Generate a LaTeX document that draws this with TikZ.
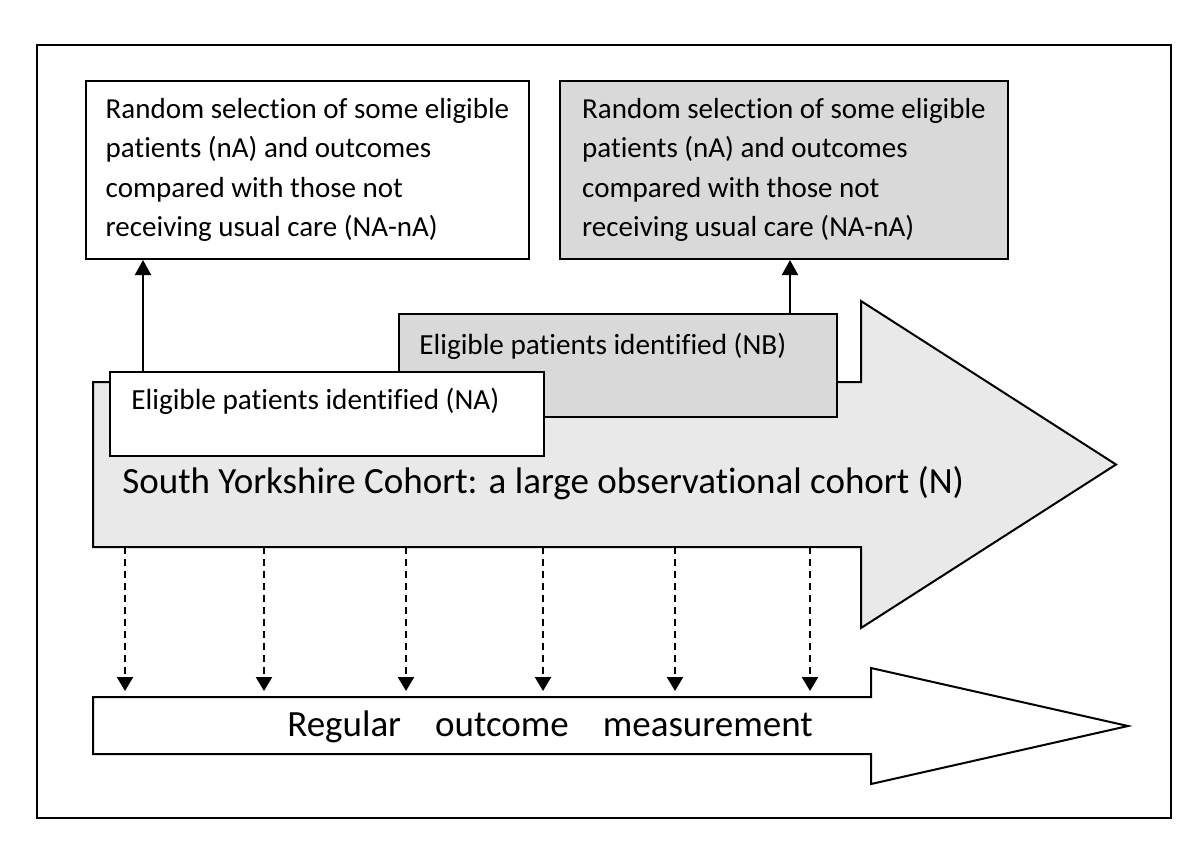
\documentclass[tikz,border=0pt]{standalone}
\usepackage{fontspec}
\setmainfont{Carlito}[RawFeature=-liga]
\usetikzlibrary{arrows.meta,calc}
\definecolor{arrowfill}{RGB}{233,233,233}
\definecolor{boxfill}{RGB}{217,217,217}
\begin{document}
\begin{tikzpicture}[x=0.5pt,y=-0.5pt,
  outline/.style={draw=black,line width=1pt},
  box/.style={outline,rectangle,inner sep=0pt,anchor=north west},
  boxtxt/.style={font=\fontsize{14.5}{19.75}\selectfont,align=left},
  smalltxt/.style={font=\fontsize{14.6}{16}\selectfont,inner sep=0pt,anchor=west},
  bigtxt/.style={font=\fontsize{18.5}{20}\selectfont,inner sep=0pt},
  uparrow/.style={line width=1pt,-{Triangle[width=8pt,length=7.5pt]}},
  measarrow/.style={line width=1.2pt,dash pattern=on 3.5pt off 2.5pt,-{Triangle[width=8pt,length=7pt]},shorten >=3pt}
]
\useasboundingbox (0,0) rectangle (1200,842);
% outer frame
\node[box,minimum width=567pt,minimum height=386.5pt] (frame) at (36,44) {};
% big cohort arrow
\filldraw[outline,fill=arrowfill] (93,382) -- (861,382) -- (861,301) -- (1116,464.5)
  -- (861,628) -- (861,547) -- (93,547) -- cycle;
% eligible boxes
\node[box,fill=boxfill,minimum width=219pt,minimum height=51.5pt] (nb) at (398,313) {};
\node[box,fill=white,minimum width=217pt,minimum height=42pt] (na) at (109,371) {};
\node[smalltxt] (nbtext) at ($(nb.north west)+(21,33)$) {Eligible patients identified (NB)};
\node[smalltxt] (natext) at ($(na.north west)+(22,30)$) {Eligible patients identified (NA)};
% cohort label
\node[bigtxt,anchor=west] (ntext) at (122,483) {South Yorkshire Cohort: a large observational cohort (N)};
% top boxes
\node[box,fill=white,minimum width=221.5pt,minimum height=89pt,boxtxt] (tl) at (85,80)
  {Random selection of some eligible\\patients (nA) and outcomes\\compared with those not\\receiving usual care (NA-nA)};
\node[box,fill=boxfill,minimum width=224pt,minimum height=89pt,boxtxt] (tr) at (559,80)
  {Random selection of some eligible\\patients (nA) and outcomes\\compared with those not\\receiving usual care (NA-nA)};
% up arrows
\coordinate (a1) at ($(na.north west)+(34,0)$);
\coordinate (b1) at ($(nb.north west)+(392,0)$);
\draw[uparrow] (a1) -- (a1 |- tl.south);
\draw[uparrow] (b1) -- (b1 |- tr.south);
% bottom measurement arrow
\filldraw[outline,fill=white] (93,697) -- (871,697) -- (871,668) -- (1128,726)
  -- (871,784) -- (871,754) -- (93,754) -- cycle;
\node[bigtxt] (mtext) at (550,727) {Regular\hspace{17pt}outcome\hspace{17pt}measurement};
% dashed measurement arrows
\foreach \i/\x in {1/125,2/264,3/406,4/543,5/675,6/810}{
  \coordinate (ms\i) at (\x,547);
  \coordinate (me\i) at (\x,697);
  \draw[measarrow] (ms\i) -- (me\i);
}
\end{tikzpicture}
\end{document}
